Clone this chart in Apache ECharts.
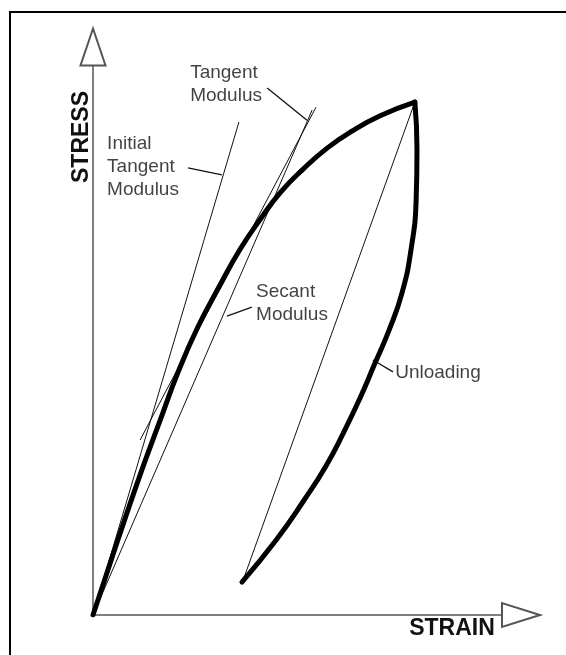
<!DOCTYPE html>
<html>
<head>
<meta charset="utf-8">
<script src="https://cdn.jsdelivr.net/npm/echarts@6/dist/echarts.min.js"></script>
<style>
  html, body { margin: 0; padding: 0; background: #fff; }
  #chart { width: 566px; height: 655px; }
</style>
</head>
<body>
<div id="chart"></div>
<script>
// strain / stress in arbitrary units (0..10 on both axes)
const loadingCurve = [
  [0, 0], [0.58, 1.32], [1.14, 2.55], [1.57, 3.43], [1.99, 4.28],
  [2.45, 5.07], [2.94, 5.77], [3.43, 6.43], [3.93, 6.99], [4.39, 7.45],
  [4.91, 7.85], [5.47, 8.22], [6.05, 8.52], [6.71, 8.79], [7.52, 9.03]
]
const unloadingCurve = [
  [7.52, 9.03], [7.57, 8.19], [7.55, 7.31], [7.43, 6.43], [7.22, 5.67],
  [6.92, 5.02], [6.57, 4.4], [6.24, 3.82], [5.86, 3.22], [5.44, 2.62],
  [4.93, 2.02], [4.28, 1.32], [3.48, 0.58]
]
const initialTangent = [[0, 0], [3.41, 8.68]]
const secantLine = [[0, 0], [5.12, 8.89]]
const tangentLine = [[1.1, 3.08], [5.21, 8.94]]
const unloadChord = [[3.52, 0.64], [7.52, 9.03]]

// leader lines from labels to the lines they name
const initialLeader = [[2.22, 7.87], [3.01, 7.75]]
const tangentLeader = [[4.07, 9.28], [5.0, 8.71]]
const secantLeader = [[3.71, 5.42], [3.13, 5.26]]
const unloadLeader = [[7.01, 4.28], [6.54, 4.49]]

const labelNames = ['Initial\nTangent\nModulus', 'Tangent\nModulus', 'Secant\nModulus', 'Unloading']
const labelAnchors = [[0.33, 7.89], [2.27, 9.35], [3.81, 5.48], [7.06, 4.26]]

const chart = echarts.init(document.getElementById('chart'))

const font = 'Liberation Sans, Arial, sans-serif'

function thin (data, width) {
  return {
    type: 'line',
    data: data,
    symbol: 'none',
    silent: true,
    lineStyle: { color: '#111', width: width || 1 }
  }
}

function thick (data) {
  return {
    type: 'line',
    data: data,
    symbol: 'none',
    smooth: true,
    silent: true,
    z: 3,
    lineStyle: { color: '#000', width: 5, cap: 'round', join: 'round' }
  }
}

const axisLine = {
  show: true,
  lineStyle: { color: '#555', width: 1.5 }
}

chart.setOption({
  animation: false,
  grid: { left: 93, top: 47, right: 45, bottom: 40 },
  xAxis: {
    type: 'value',
    min: 0,
    max: 10,
    axisLine: Object.assign({ symbol: ['none', 'emptyTriangle'], symbolSize: [24, 38] }, axisLine),
    axisTick: { show: false },
    axisLabel: { show: false },
    splitLine: { show: false }
  },
  yAxis: {
    type: 'value',
    min: 0,
    max: 10,
    axisLine: Object.assign({ symbol: ['none', 'emptyTriangle'], symbolSize: [25, 37] }, axisLine),
    axisTick: { show: false },
    axisLabel: { show: false },
    splitLine: { show: false }
  },
  graphic: [
    {
      type: 'rect',
      shape: { x: 10, y: 12, width: 620, height: 700 },
      style: { fill: 'none', stroke: '#000', lineWidth: 2 },
      silent: true
    },
    {
      type: 'text',
      x: 82,
      y: 137,
      rotation: Math.PI / 2,
      style: {
        text: 'STRESS',
        align: 'center',
        verticalAlign: 'middle',
        font: 'bold 23px ' + font,
        fill: '#111'
      }
    },
    {
      type: 'text',
      x: 452,
      y: 629,
      style: {
        text: 'STRAIN',
        align: 'center',
        verticalAlign: 'middle',
        font: 'bold 23px ' + font,
        fill: '#111'
      }
    }
  ],
  series: [
    thin(initialTangent),
    thin(secantLine),
    thin(tangentLine),
    thin(unloadChord),
    thin(initialLeader, 1.3),
    thin(tangentLeader, 1.3),
    thin(secantLeader, 1.3),
    thin(unloadLeader, 1.3),
    thick(loadingCurve),
    thick(unloadingCurve),
    {
      type: 'scatter',
      symbolSize: 0,
      silent: true,
      data: labelAnchors.map((p, i) => ({ value: p, name: labelNames[i] })),
      label: {
        show: true,
        position: 'right',
        distance: 0,
        formatter: '{b}',
        color: '#111',
        fontFamily: font,
        fontSize: 19,
        lineHeight: 23
      }
    }
  ]
})
</script>
</body>
</html>
